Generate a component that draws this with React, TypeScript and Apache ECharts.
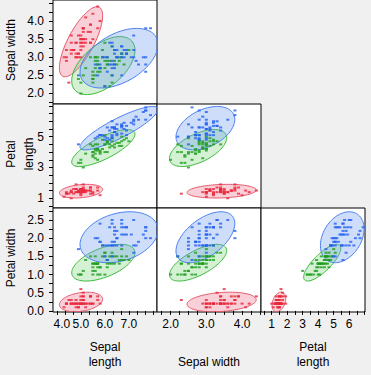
import React, { useEffect, useRef } from "react";
import * as echarts from "echarts";

// ---- Iris data (per species) ----
const setosaSL = [5.1,4.9,4.7,4.6,5.0,5.4,4.6,5.0,4.4,4.9,5.4,4.8,4.8,4.3,5.8,5.7,5.4,5.1,5.7,5.1,5.4,5.1,4.6,5.1,4.8,5.0,5.0,5.2,5.2,4.7,4.8,5.4,5.2,5.5,4.9,5.0,5.5,4.9,4.4,5.1,5.0,4.5,4.4,5.0,5.1,4.8,5.1,4.6,5.3,5.0];
const setosaSW = [3.5,3.0,3.2,3.1,3.6,3.9,3.4,3.4,2.9,3.1,3.7,3.4,3.0,3.0,4.0,4.4,3.9,3.5,3.8,3.8,3.4,3.7,3.6,3.3,3.4,3.0,3.4,3.5,3.4,3.2,3.1,3.4,4.1,4.2,3.1,3.2,3.5,3.6,3.0,3.4,3.5,2.3,3.2,3.5,3.8,3.0,3.8,3.2,3.7,3.3];
const setosaPL = [1.4,1.4,1.3,1.5,1.4,1.7,1.4,1.5,1.4,1.5,1.5,1.6,1.4,1.1,1.2,1.5,1.3,1.4,1.7,1.5,1.7,1.5,1.0,1.7,1.9,1.6,1.6,1.5,1.4,1.6,1.6,1.5,1.5,1.4,1.5,1.2,1.3,1.4,1.3,1.5,1.3,1.3,1.3,1.6,1.9,1.4,1.6,1.4,1.5,1.4];
const setosaPW = [0.2,0.2,0.2,0.2,0.2,0.4,0.3,0.2,0.2,0.1,0.2,0.2,0.1,0.1,0.2,0.4,0.4,0.3,0.3,0.3,0.2,0.4,0.2,0.5,0.2,0.2,0.4,0.2,0.2,0.2,0.2,0.4,0.1,0.2,0.2,0.2,0.2,0.1,0.2,0.2,0.3,0.3,0.2,0.6,0.4,0.3,0.2,0.2,0.2,0.2];

const versicolorSL = [7.0,6.4,6.9,5.5,6.5,5.7,6.3,4.9,6.6,5.2,5.0,5.9,6.0,6.1,5.6,6.7,5.6,5.8,6.2,5.6,5.9,6.1,6.3,6.1,6.4,6.6,6.8,6.7,6.0,5.7,5.5,5.5,5.8,6.0,5.4,6.0,6.7,6.3,5.6,5.5,5.5,6.1,5.8,5.0,5.6,5.7,5.7,6.2,5.1,5.7];
const versicolorSW = [3.2,3.2,3.1,2.3,2.8,2.8,3.3,2.4,2.9,2.7,2.0,3.0,2.2,2.9,2.9,3.1,3.0,2.7,2.2,2.5,3.2,2.8,2.5,2.8,2.9,3.0,2.8,3.0,2.9,2.6,2.4,2.4,2.7,2.7,3.0,3.4,3.1,2.3,3.0,2.5,2.6,3.0,2.6,2.3,2.7,3.0,2.9,2.9,2.5,2.8];
const versicolorPL = [4.7,4.5,4.9,4.0,4.6,4.5,4.7,3.3,4.6,3.9,3.5,4.2,4.0,4.7,3.6,4.4,4.5,4.1,4.5,3.9,4.8,4.0,4.9,4.7,4.3,4.4,4.8,5.0,4.5,3.5,3.8,3.7,3.9,5.1,4.5,4.5,4.7,4.4,4.1,4.0,4.4,4.6,4.0,3.3,4.2,4.2,4.2,4.3,3.0,4.1];
const versicolorPW = [1.4,1.5,1.5,1.3,1.5,1.3,1.6,1.0,1.3,1.4,1.0,1.5,1.0,1.4,1.3,1.4,1.5,1.0,1.5,1.1,1.8,1.3,1.5,1.2,1.3,1.4,1.4,1.7,1.5,1.0,1.1,1.0,1.2,1.6,1.5,1.6,1.5,1.3,1.3,1.3,1.2,1.4,1.2,1.0,1.3,1.2,1.3,1.3,1.1,1.3];

const virginicaSL = [6.3,5.8,7.1,6.3,6.5,7.6,4.9,7.3,6.7,7.2,6.5,6.4,6.8,5.7,5.8,6.4,6.5,7.7,7.7,6.0,6.9,5.6,7.7,6.3,6.7,7.2,6.2,6.1,6.4,7.2,7.4,7.9,6.4,6.3,6.1,7.7,6.3,6.4,6.0,6.9,6.7,6.9,5.8,6.8,6.7,6.7,6.3,6.5,6.2,5.9];
const virginicaSW = [3.3,2.7,3.0,2.9,3.0,3.0,2.5,2.9,2.5,3.6,3.2,2.7,3.0,2.5,2.8,3.2,3.0,3.8,2.6,2.2,3.2,2.8,2.8,2.7,3.3,3.2,2.8,3.0,2.8,3.0,2.8,3.8,2.8,2.8,2.6,3.0,3.4,3.1,3.0,3.1,3.1,3.1,2.7,3.2,3.3,3.0,2.5,3.0,3.4,3.0];
const virginicaPL = [6.0,5.1,5.9,5.6,5.8,6.6,4.5,6.3,5.8,6.1,5.1,5.3,5.5,5.0,5.1,5.3,5.5,6.7,6.9,5.0,5.7,4.9,6.7,4.9,5.7,6.0,4.8,4.9,5.6,5.8,6.1,6.4,5.6,5.1,5.6,6.1,5.6,5.5,4.8,5.4,5.6,5.1,5.1,5.9,5.7,5.2,5.0,5.2,5.4,5.1];
const virginicaPW = [2.5,1.9,2.1,1.8,2.2,2.1,1.7,1.8,1.8,2.5,2.0,1.9,2.1,2.0,2.4,2.3,1.8,2.2,2.3,1.5,2.3,2.0,2.0,1.8,2.1,1.8,1.8,1.8,2.1,1.6,1.9,2.0,2.2,1.5,1.4,2.3,2.4,1.8,1.8,2.1,2.4,2.3,1.9,2.3,2.5,2.3,1.9,2.0,2.3,1.8];

// ---- Axis ticks & labels ----
const sepalLengthTicks = [4, 4.333, 4.667, 5, 5.333, 5.667, 6, 6.333, 6.667, 7, 7.333, 7.667, 8];
const sepalLengthLabels = [4, 5, 6, 7];
const sepalWidthTicks = [1.75, 2, 2.25, 2.5, 2.75, 3, 3.25, 3.5, 3.75, 4, 4.25, 4.5];
const sepalWidthXLabels = [2, 3, 4];
const sepalWidthYLabels = [2, 2.5, 3, 3.5, 4];
const petalLengthTicks = [0.5, 1, 1.5, 2, 2.5, 3, 3.5, 4, 4.5, 5, 5.5, 6, 6.5, 7];
const petalLengthXLabels = [1, 2, 3, 4, 5, 6];
const petalLengthYLabels = [1, 3, 5];
const petalWidthTicks = [0, 0.25, 0.5, 0.75, 1, 1.25, 1.5, 1.75, 2, 2.25, 2.5, 2.75];
const petalWidthLabels = [0, 0.5, 1, 1.5, 2, 2.5];

const FONT = '"Liberation Sans", Arial, sans-serif';
const BG = "#f0f0f0";
const POINT_COLORS = ["#e8283c", "#1e9e1e", "#2462f0"];
const ELL_STROKE = ["#e8566a", "#3cb83c", "#4a80f0"];
const ELL_FILL = ["rgba(240,110,135,0.32)", "rgba(90,200,90,0.26)", "rgba(100,150,240,0.32)"];
const ELLIPSE_K2 = 6.51; // 95% density ellipse

const COL_X = [53, 157, 261];
const ROW_Y = [-1, 104, 208];
const ROW_H = [105, 104, 104];
const COL_W = 104;

type V = "SL" | "SW" | "PL" | "PW";
const speciesData: Record<V, number[]>[] = [
  { SL: setosaSL, SW: setosaSW, PL: setosaPL, PW: setosaPW },
  { SL: versicolorSL, SW: versicolorSW, PL: versicolorPL, PW: versicolorPW },
  { SL: virginicaSL, SW: virginicaSW, PL: virginicaPL, PW: virginicaPW },
];

const colAxes = [
  { v: "SL" as V, min: 3.84, max: 8.17, ticks: sepalLengthTicks, labels: sepalLengthLabels, dec: 1 },
  { v: "SW" as V, min: 1.62, max: 4.53, ticks: sepalWidthTicks, labels: sepalWidthXLabels, dec: 1 },
  { v: "PL" as V, min: 0.31, max: 7.02, ticks: petalLengthTicks, labels: petalLengthXLabels, dec: 0 },
];
const rowAxes = [
  { v: "SW" as V, min: 1.71, max: 4.58, ticks: sepalWidthTicks, labels: sepalWidthYLabels, dec: 1 },
  { v: "PL" as V, min: 0.37, max: 7.12, ticks: petalLengthTicks, labels: petalLengthYLabels, dec: 0 },
  { v: "PW" as V, min: -0.03, max: 2.83, ticks: petalWidthTicks, labels: petalWidthLabels, dec: 1 },
];

const panels = [
  { row: 0, col: 0 },
  { row: 1, col: 0 },
  { row: 1, col: 1 },
  { row: 2, col: 0 },
  { row: 2, col: 1 },
  { row: 2, col: 2 },
];

function ellipse(xs: number[], ys: number[]): number[][] {
  const n = xs.length;
  const mx = xs.reduce((a, b) => a + b, 0) / n;
  const my = ys.reduce((a, b) => a + b, 0) / n;
  let sxx = 0, syy = 0, sxy = 0;
  for (let i = 0; i < n; i++) {
    const dx = xs[i] - mx, dy = ys[i] - my;
    sxx += dx * dx; syy += dy * dy; sxy += dx * dy;
  }
  sxx /= n - 1; syy /= n - 1; sxy /= n - 1;
  const a = Math.sqrt(sxx);
  const b = sxy / a;
  const c = Math.sqrt(Math.max(syy - b * b, 1e-12));
  const k = Math.sqrt(ELLIPSE_K2);
  const pts: number[][] = [];
  for (let i = 0; i < 96; i++) {
    const t = (i / 96) * Math.PI * 2;
    const u = Math.cos(t), w = Math.sin(t);
    pts.push([mx + k * a * u, my + k * (b * u + c * w)]);
  }
  return pts;
}

export default function App() {
  const ref = useRef<HTMLDivElement>(null);
  useEffect(() => {
    if (!ref.current) return;
    const chart = echarts.init(ref.current, null, { renderer: "svg" });
    const grids: any[] = [];
    const xAxes: any[] = [];
    const yAxes: any[] = [];
    const series: any[] = [];
    panels.forEach((p, i) => {
      const ca = colAxes[p.col];
      const ra = rowAxes[p.row];
      grids.push({
        left: COL_X[p.col], top: ROW_Y[p.row], width: COL_W, height: ROW_H[p.row],
        show: true, borderColor: "#000", borderWidth: 1, backgroundColor: "#fff",
      });
      const bottom = p.row === 2;
      const left = p.col === 0;
      xAxes.push({
        type: "value", gridIndex: i, min: ca.min, max: ca.max,
        axisLine: { show: false }, splitLine: { show: false },
        axisTick: { show: bottom, length: 4, lineStyle: { color: "#000" }, customValues: ca.ticks },
        axisLabel: {
          show: bottom, customValues: ca.labels, margin: 6, color: "#000", fontSize: 12, fontFamily: FONT,
          showMinLabel: true, showMaxLabel: true, hideOverlap: false,
          formatter: (v: number) => {
            const s = v.toFixed(ca.dec);
            if (ca.v === "SL" && Math.abs(v - 4) < 1e-9) return "{s|" + s + "}";
            return s;
          },
          rich: { s: { padding: [0, 0, 0, 10], fontSize: 12, fontFamily: FONT, color: "#000" } },
        },
      });
      yAxes.push({
        type: "value", gridIndex: i, min: ra.min, max: ra.max,
        axisLine: { show: false }, splitLine: { show: false },
        axisTick: { show: left, length: 4, lineStyle: { color: "#000" }, customValues: ra.ticks },
        axisLabel: {
          show: left, customValues: ra.labels, margin: 9, color: "#000", fontSize: 12, fontFamily: FONT,
          showMinLabel: true, showMaxLabel: true, hideOverlap: false,
          formatter: (v: number) => v.toFixed(ra.dec),
        },
      });
      const ells = speciesData.map((sd) => ellipse(sd[ca.v], sd[ra.v]));
      series.push({
        type: "custom", xAxisIndex: i, yAxisIndex: i, z: 1, silent: true,
        data: [[0, 0, 0], [0, 0, 1], [0, 0, 2]],
        encode: { x: 0, y: 1 },
        renderItem: (params: any, api: any) => {
          const si = params.dataIndex;
          const cs = params.coordSys;
          const pts = ells[si].map((q) => api.coord(q));
          return {
            type: "polygon",
            shape: { points: pts },
            style: { fill: ELL_FILL[si], stroke: ELL_STROKE[si], lineWidth: 1 },
            clipPath: { type: "rect", shape: { x: cs.x, y: cs.y, width: cs.width, height: cs.height } },
          };
        },
      });
      speciesData.forEach((sd, si) => {
        series.push({
          type: "scatter", xAxisIndex: i, yAxisIndex: i, z: 3, silent: true,
          symbol: "rect", symbolSize: [3, 2],
          itemStyle: { color: POINT_COLORS[si] },
          data: sd[ca.v].map((x, j) => [x, sd[ra.v][j]]),
        });
      });
    });

    const txt = (text: string, x: number, y: number, rot = 0) => ({
      type: "text", x, y, rotation: rot, silent: true,
      style: { text, fill: "#000", fontSize: 12, fontFamily: FONT, align: "center", verticalAlign: "middle" },
    });

    chart.setOption({
      animation: false,
      backgroundColor: BG,
      grid: grids,
      xAxis: xAxes,
      yAxis: yAxes,
      series,
      graphic: [
        txt("Sepal width", 10.5, 50, Math.PI / 2),
        txt("Petal", 10.5, 154, Math.PI / 2),
        txt("length", 28.5, 154, Math.PI / 2),
        txt("Petal width", 10.5, 258, Math.PI / 2),
        txt("Sepal", 105, 346.5),
        txt("length", 105, 362),
        txt("Sepal width", 209, 362),
        txt("Petal", 313, 346.5),
        txt("length", 313, 362),
      ],
    });
    return () => chart.dispose();
  }, []);
  return (
    <div
      ref={ref}
      style={{ position: "absolute", left: 0, top: 0, width: 371, height: 375 }}
    />
  );
}
